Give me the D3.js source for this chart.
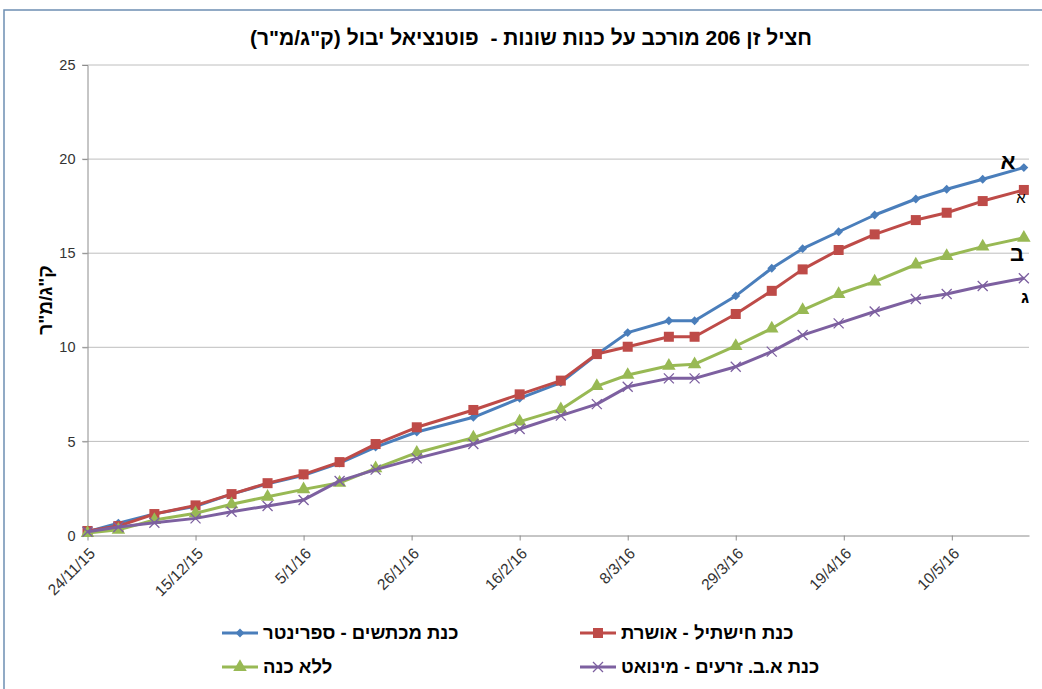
<!DOCTYPE html>
<html>
<head>
<meta charset="utf-8">
<script src="https://cdn.jsdelivr.net/npm/d3@7"></script>
<style>
  body{margin:0;background:#fff}
  svg{display:block;font-family:"Liberation Sans",Arial,sans-serif}
</style>
</head>
<body>
<script>
// data
var dates = ["24/11/15","30/11/15","7/12/15","15/12/15","22/12/15","29/12/15","5/1/16","12/1/16","19/1/16","27/1/16",
  "7/2/16","16/2/16","24/2/16","2/3/16","8/3/16","16/3/16","21/3/16","29/3/16","5/4/16","11/4/16",
  "18/4/16","25/4/16","3/5/16","9/5/16","16/5/16","24/5/16"]
var sprinter = [0.2,0.66,1.15,1.55,2.2,2.75,3.2,3.85,4.7,5.5,6.28,7.29,8.12,9.62,10.78,11.41,11.41,12.73,14.2,15.24,16.14,17.03,17.88,18.4,18.93,19.55]
var oshrat = [0.24,0.5,1.14,1.6,2.2,2.78,3.25,3.9,4.86,5.75,6.67,7.5,8.23,9.64,10.03,10.56,10.56,11.77,13.0,14.14,15.17,16.0,16.76,17.15,17.77,18.36]
var noRoot = [0.13,0.3,0.82,1.18,1.66,2.06,2.45,2.8,3.57,4.4,5.2,6.05,6.7,7.94,8.53,9.02,9.1,10.07,11.0,11.98,12.83,13.49,14.4,14.85,15.35,15.82]
var minuet = [0.2,0.45,0.68,0.91,1.26,1.57,1.89,2.9,3.5,4.1,4.86,5.66,6.37,6.98,7.9,8.35,8.35,8.97,9.77,10.65,11.27,11.9,12.57,12.83,13.26,13.67]
var names = ["כנת מכתשים - ספרינטר","כנת חישתיל - אושרת","ללא כנה","כנת א.ב. זרעים - מינואט"]
var endLabels = ["א","א","ב","ג"]
var yTicks = [0,5,10,15,20,25]
var title = "חציל זן 206 מורכב על כנות שונות -  פוטנציאל יבול (ק\"ג/מ\"ר)"
var yTitle = "ק\"ג/מ\"ר"

var W=1042,H=689
var parse=d3.timeParse("%d/%m/%y")
var fmt=d3.timeFormat("%-d/%-m/%y")
var series=[
  {name:names[0],values:sprinter,color:"#4a7ebb",marker:"diamond"},
  {name:names[1],values:oshrat,color:"#be4b48",marker:"square"},
  {name:names[2],values:noRoot,color:"#98b954",marker:"triangle"},
  {name:names[3],values:minuet,color:"#7d60a0",marker:"cross"}
]

var svg=d3.select("body").append("svg").attr("width",W).attr("height",H)
// chart frame
svg.append("rect").attr("x",4).attr("y",10).attr("width",W).attr("height",H)
  .attr("fill","none").attr("stroke","#6d8fb3").attr("stroke-width",1.5)

var x0=parse(dates[0])
var xMax=d3.timeDay.offset(parse(dates[dates.length-1]),1)
var x=d3.scaleTime().domain([x0,xMax]).range([87.5,1029])
var y=d3.scaleLinear().domain([0,25]).range([535.5,65])
var xTicks=d3.timeDay.every(1).range(x0,xMax).filter(function(d,i){return i%21===0})

// grid
svg.append("g").selectAll("line").data(yTicks.slice(1)).enter().append("line")
  .attr("x1",82).attr("x2",1029).attr("y1",function(d){return y(d)}).attr("y2",function(d){return y(d)})
  .attr("stroke","#bebebe").attr("stroke-width",1)

var yAxis=svg.append("g").attr("transform","translate(87.5,0)")
  .call(d3.axisLeft(y).tickValues(yTicks).tickSize(5).tickPadding(7))
yAxis.select(".domain").attr("stroke","#8c8c8c")
yAxis.selectAll(".tick line").attr("stroke","#8c8c8c")
yAxis.selectAll("text").attr("font-size",14.5).attr("fill","#333").attr("font-family","Liberation Sans, Arial")

var xAxis=svg.append("g").attr("transform","translate(0,535.5)")
  .call(d3.axisBottom(x).tickValues(xTicks).tickFormat(fmt).tickSize(5).tickSizeOuter(0))
xAxis.select(".domain").attr("stroke","#8c8c8c")
xAxis.selectAll(".tick line").attr("stroke","#8c8c8c")
xAxis.selectAll("text").attr("font-size",15.5).attr("fill","#333").attr("font-family","Liberation Sans, Arial")
  .attr("text-anchor","end").attr("dy",0).attr("y",0)
  .attr("transform","translate(8,19) rotate(-45)")

function marker(g,type,color,size){
  if(type==="diamond") g.append("path").attr("d",d3.symbol(d3.symbolDiamond2,size*size*0.5)()).attr("fill",color)
  else if(type==="square") g.append("rect").attr("x",-size/2).attr("y",-size/2).attr("width",size).attr("height",size).attr("fill",color)
  else if(type==="triangle") g.append("path").attr("d",d3.symbol(d3.symbolTriangle,size*size*0.55)()).attr("fill",color)
  else g.append("path").attr("d","M"+(-size/2)+","+(-size/2)+"L"+size/2+","+size/2+"M"+(-size/2)+","+size/2+"L"+size/2+","+(-size/2))
    .attr("stroke",color).attr("stroke-width",1.3).attr("fill","none")
}
var sizes={diamond:10,square:10,triangle:12,cross:10}

var line=d3.line().x(function(d,i){return x(parse(dates[i]))}).y(function(d){return y(d)})
series.forEach(function(s){
  svg.append("path").datum(s.values).attr("d",line).attr("fill","none")
    .attr("stroke",s.color).attr("stroke-width",3).attr("stroke-linejoin","round")
  svg.append("g").selectAll("g").data(s.values).enter().append("g")
    .attr("transform",function(d,i){return "translate("+x(parse(dates[i]))+","+y(d)+")"})
    .each(function(){marker(d3.select(this),s.marker,s.color,sizes[s.marker])})
})

// end letters
var lblPos=[[1008,169,22,"bold"],[1021,203,15,"normal"],[1017,261,22,"bold"],[1025,303,17,"bold"]]
svg.selectAll(".endlbl").data(endLabels).enter().append("text")
  .attr("x",function(d,i){return lblPos[i][0]}).attr("y",function(d,i){return lblPos[i][1]})
  .attr("font-size",function(d,i){return lblPos[i][2]}).attr("font-weight",function(d,i){return lblPos[i][3]})
  .attr("text-anchor","middle").attr("fill","#000").text(function(d){return d})

// title
svg.append("text").attr("x",531).attr("y",45).attr("text-anchor","middle").attr("direction","rtl")
  .style("white-space","pre").attr("font-size",21).attr("font-weight","bold").text(title)
svg.append("text").attr("transform","translate(52,300) rotate(-90)").attr("text-anchor","middle").attr("direction","rtl")
  .attr("font-size",19).attr("font-weight","bold").text(yTitle)

// legend
var leg=[[240,633],[598,633],[240,667],[598,667]]
series.forEach(function(s,i){
  var g=svg.append("g").attr("transform","translate("+leg[i][0]+","+leg[i][1]+")")
  g.append("line").attr("x1",-18).attr("x2",18).attr("stroke",s.color).attr("stroke-width",3)
  marker(g.append("g"),s.marker,s.color,sizes[s.marker])
  g.append("text").attr("x",23).attr("y",6).attr("direction","rtl").attr("text-anchor","end")
    .attr("font-size",18.5).attr("font-weight","bold").text(s.name)
})
</script>
</body>
</html>
